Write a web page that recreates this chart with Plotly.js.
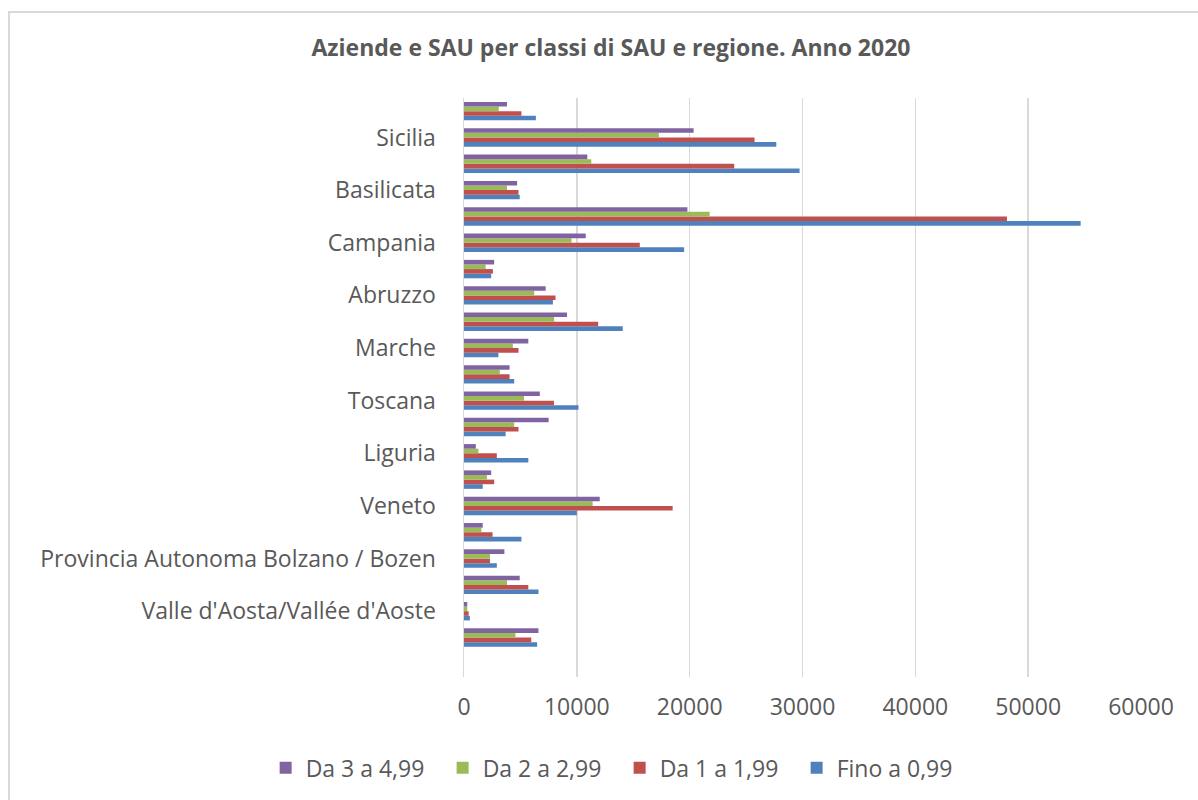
<!DOCTYPE html>
<html>
<head>
<meta charset="utf-8">
<script src="https://cdn.plot.ly/plotly-3.0.1.min.js"></script>
<style>
html,body{margin:0;padding:0;background:#fff;}
#chart{width:1198px;height:800px;position:absolute;left:0;top:0;}
#frame{position:absolute;left:8px;top:11px;width:1400px;height:1000px;border-left:2px solid #d9d9d9;border-top:2px solid #d9d9d9;pointer-events:none;}
</style>
</head>
<body>
<div id="chart"></div>
<div id="frame"></div>
<script>
const regions = ["Piemonte","Valle d'Aosta/Vallée d'Aoste","Lombardia","Provincia Autonoma Bolzano / Bozen","Provincia Autonoma Trento","Veneto","Friuli-Venezia Giulia","Liguria","Emilia-Romagna","Toscana","Umbria","Marche","Lazio","Abruzzo","Molise","Campania","Puglia","Basilicata","Calabria","Sicilia","Sardegna"];
const labelledRegions = ["Valle d'Aosta/Vallée d'Aoste","Provincia Autonoma Bolzano / Bozen","Veneto","Liguria","Toscana","Marche","Abruzzo","Campania","Basilicata","Sicilia"];
const fino099 = [6480,520,6600,2910,5090,10000,1660,5700,3690,10150,4450,3050,14070,7880,2410,19510,54650,4940,29740,27680,6370];
const da1a199 = [5960,410,5700,2300,2530,18490,2670,2910,4830,7970,4040,4830,11890,8110,2560,15580,48120,4830,23950,25750,5090];
const da2a299 = [4560,290,3810,2300,1540,11400,2030,1280,4450,5320,3170,4330,7990,6220,1920,9530,21770,3810,11280,17270,3080];
const da3a499 = [6600,290,4940,3580,1660,12030,2410,1050,7500,6720,4040,5700,9130,7240,2670,10790,19800,4710,10930,20350,3810];
const seriesNames = ["Fino a 0,99","Da 1 a 1,99","Da 2 a 2,99","Da 3 a 4,99"];
const xTicks = [0,10000,20000,30000,40000,50000,60000];

const colors = ["#4F81BD","#C0504D","#9BBB59","#8064A2"];
const values = [fino099, da1a199, da2a299, da3a499];
const traces = values.map((v,i)=>({
  type:'bar', orientation:'h', name:seriesNames[i], x:v, y:regions,
  marker:{color:colors[i]}
}));
const FONT = "'Open Sans', Lato, sans-serif";
const layout = {
  width:1198, height:800,
  margin:{l:464, r:57, t:98, b:122},
  paper_bgcolor:'#fff', plot_bgcolor:'#fff',
  font:{family:FONT, color:'#595959', size:23},
  title:{text:'<b>Aziende e SAU per classi di SAU e regione. Anno 2020</b>', x:0.51, xanchor:'center', y:0.94, yanchor:'middle', font:{size:23, color:'#595959', family:FONT}},
  barmode:'group', bargap:0.3, bargroupgap:0,
  xaxis:{range:[0,60000], tickmode:'array', tickvals:xTicks, ticktext:xTicks.map(String),
    showgrid:true, gridcolor:'#d9d9d9', gridwidth:1.5, zeroline:false, showline:false,
    ticks:'outside', ticklen:9, tickcolor:'rgba(0,0,0,0)', tickfont:{size:23, color:'#595959'}, fixedrange:true},
  yaxis:{type:'category', categoryorder:'array', categoryarray:regions, range:[-1.5,20.5],
    tickmode:'array', tickvals:labelledRegions, ticktext:labelledRegions,
    showgrid:false, zeroline:false, showline:true, linecolor:'#d9d9d9', linewidth:1.5,
    ticks:'outside', ticklen:22, tickcolor:'rgba(0,0,0,0)', tickfont:{size:23, color:'#595959'}},
  legend:{orientation:'h', traceorder:'reversed', x:-0.293, xanchor:'left', y:-0.155, yanchor:'middle',
    font:{size:23, color:'#595959'}, itemwidth:30, entrywidth:132, bgcolor:'rgba(0,0,0,0)'},
  showlegend:true
};
Plotly.newPlot('chart', traces, layout, {displayModeBar:false, staticPlot:true});
</script>
</body>
</html>
